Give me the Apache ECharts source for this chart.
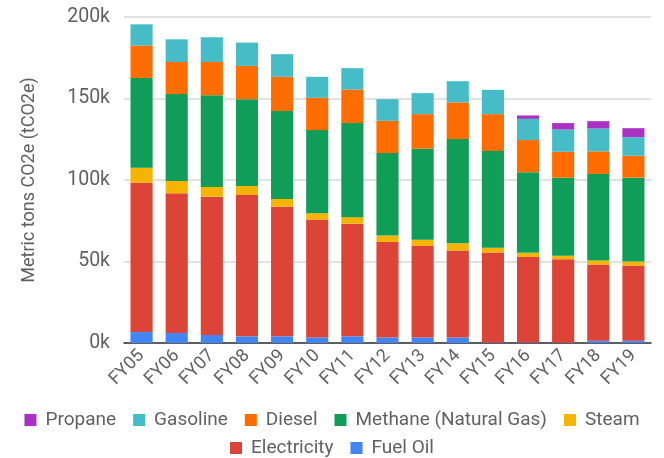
<!DOCTYPE html>
<html>
<head>
<meta charset="utf-8">
<script src="https://cdn.jsdelivr.net/npm/echarts@6/dist/echarts.min.js"></script>
<style>
  html, body { margin: 0; padding: 0; background: #fff; }
  #chart { width: 664px; height: 458px; }
</style>
</head>
<body>
<div id="chart"></div>
<script>
const years = ["FY05", "FY06", "FY07", "FY08", "FY09", "FY10", "FY11", "FY12", "FY13", "FY14", "FY15", "FY16", "FY17", "FY18", "FY19"];

// values in thousands of tCO2e, bottom of stack first
const fuelOil     = [6.7, 6.1, 4.9, 4.1, 4.1, 3.4, 4.1, 3.4, 3.4, 3.4, 0.3, 0.3, 0.2, 1.4, 1.4];
const electricity = [91.6, 85.7, 84.9, 86.7, 79.5, 72.3, 69.1, 58.6, 56.2, 53.3, 55.2, 52.5, 51.2, 46.7, 46.1];
const steam       = [9.2, 7.6, 5.9, 5.5, 4.8, 3.9, 4.0, 3.9, 3.7, 4.5, 3.0, 2.5, 2.1, 2.5, 2.5];
const methane     = [55.1, 53.3, 56.3, 53.3, 53.9, 51.0, 57.7, 50.6, 55.9, 63.9, 59.3, 49.4, 47.9, 53.1, 51.4];
const diesel      = [19.9, 19.7, 20.4, 20.4, 21.0, 19.8, 20.6, 19.8, 21.2, 22.5, 22.6, 19.8, 15.9, 13.9, 13.5];
const gasoline    = [13.0, 13.9, 15.2, 14.3, 13.9, 12.9, 13.1, 13.3, 12.9, 13.0, 14.9, 13.0, 13.7, 14.0, 11.4];
const propane     = [0, 0, 0, 0, 0, 0, 0, 0, 0, 0, 0, 2.1, 3.9, 4.5, 5.5];

const yTicks = [0, 50000, 100000, 150000, 200000];

const stackSeries = [
  { name: "Fuel Oil", data: fuelOil, color: "#4285F4" },
  { name: "Electricity", data: electricity, color: "#DB4437" },
  { name: "Steam", data: steam, color: "#F4B400" },
  { name: "Methane (Natural Gas)", data: methane, color: "#0F9D58" },
  { name: "Diesel", data: diesel, color: "#FF6D01" },
  { name: "Gasoline", data: gasoline, color: "#46BDC6" },
  { name: "Propane", data: propane, color: "#AB30C4" }
];

const legendRow1 = ["Propane", "Gasoline", "Diesel", "Methane (Natural Gas)", "Steam"];
const legendRow2 = ["Electricity", "Fuel Oil"];

const legendBase = {
  left: "center",
  itemWidth: 12,
  itemHeight: 12,
  itemGap: 17,
  icon: "rect",
  textStyle: { color: "#616161", fontSize: 19, lineHeight: 22, padding: [0, 0, 0, 4] }
};

const chart = echarts.init(document.getElementById("chart"));

chart.setOption({
  animation: false,
  textStyle: { fontFamily: "Roboto" },
  grid: { left: 124, right: 13, top: 17, bottom: 115 },
  legend: [
    Object.assign({ data: legendRow1, top: 404 }, legendBase),
    Object.assign({ data: legendRow2, top: 432 }, legendBase)
  ],
  xAxis: {
    type: "category",
    data: years,
    axisTick: { show: false },
    axisLine: { lineStyle: { color: "#333", width: 1.5 } },
    axisLabel: { rotate: 45, color: "#616161", fontSize: 18, margin: 10 }
  },
  yAxis: {
    type: "value",
    min: yTicks[0],
    max: yTicks[yTicks.length - 1],
    interval: 50000,
    name: "Metric tons CO2e (tCO2e)",
    nameLocation: "middle",
    nameGap: 86,
    nameTextStyle: { color: "#616161", fontSize: 18 },
    axisLine: { show: false },
    axisTick: { show: false },
    splitLine: { lineStyle: { color: "#d9d9d9", width: 1.5 } },
    axisLabel: {
      color: "#616161",
      fontSize: 19.5,
      margin: 14,
      formatter: v => (v / 1000) + "k"
    }
  },
  series: stackSeries.map(s => ({
    name: s.name,
    type: "bar",
    stack: "total",
    barWidth: "63%",
    itemStyle: { color: s.color },
    data: s.data.map(v => v * 1000)
  }))
});
</script>
</body>
</html>
